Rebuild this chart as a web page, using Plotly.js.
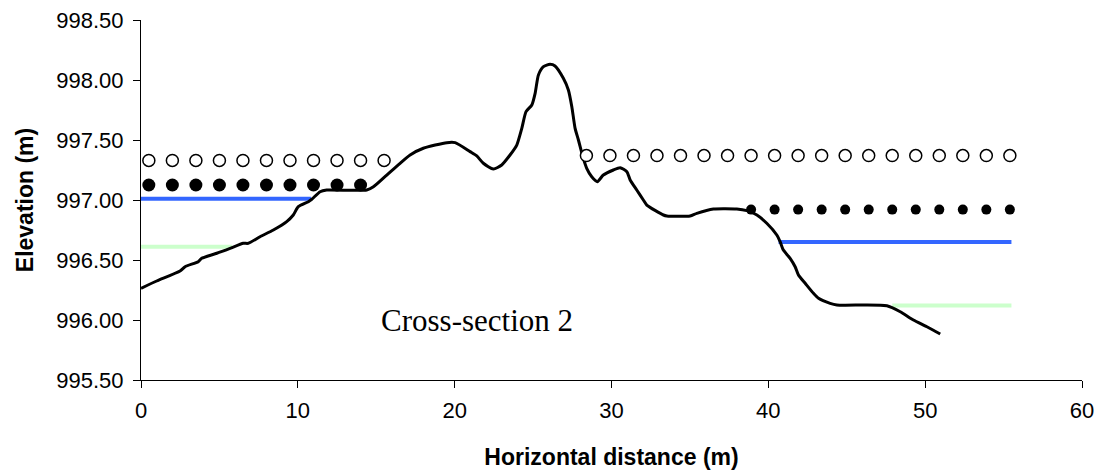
<!DOCTYPE html>
<html>
<head>
<meta charset="utf-8">
<script src="https://cdn.plot.ly/plotly-3.0.1.min.js"></script>
<style>
html,body{margin:0;padding:0;background:#fff;}
#chart{width:1104px;height:474px;}
</style>
</head>
<body>
<div id="chart"></div>
<script>
// Ground profile (horizontal distance m, elevation m)
var groundX = [0, 1.0, 2.49, 2.81, 3.65, 3.87, 4.83, 5.68, 6.52, 6.84, 7.59, 8.44, 9.29, 9.71, 10.03, 10.67,
  10.89, 11.42, 11.84, 14.39, 14.82, 15.67, 16.52, 17.16, 18.0, 19.5, 20.03, 20.98, 21.41, 21.83, 22.47,
  23.0, 23.53, 23.96, 24.28, 24.55, 24.92, 25.13, 25.34, 25.66, 26.08, 26.40, 26.93, 27.25, 27.47, 27.68,
  27.89, 28.17, 28.42, 28.74, 29.10, 29.48, 30.12, 30.55, 30.98, 31.19, 31.61, 32.03, 32.25, 33.31, 33.53,
  35.01, 35.44, 36.50, 37.99, 38.63, 39.27, 39.90, 40.54, 40.75, 40.96, 41.39, 41.71, 41.92, 42.35, 42.88,
  43.20, 43.94, 44.37, 47.56, 48.41, 49.25, 50.11, 50.96];
var groundY = [996.264, 996.325, 996.408, 996.444, 996.486, 996.514, 996.556, 996.597, 996.639, 996.639, 996.694,
  996.75, 996.82, 996.875, 996.944, 996.986,
  997.006, 997.069, 997.083, 997.083, 997.11, 997.208, 997.306, 997.375, 997.431, 997.478, 997.478, 997.403,
  997.367, 997.306, 997.258,
  997.292, 997.375, 997.458, 997.597, 997.736, 997.792, 997.889, 998.042, 998.111, 998.131, 998.117, 998.014,
  997.917, 997.778, 997.597,
  997.5, 997.361, 997.264, 997.194, 997.153, 997.208, 997.25, 997.269, 997.236, 997.167, 997.083, 997.0,
  996.958, 996.875, 996.867,
  996.867, 996.889, 996.925, 996.925, 996.911, 996.875, 996.806, 996.708, 996.653, 996.583, 996.514, 996.444,
  996.375, 996.306, 996.222,
  996.181, 996.139, 996.125, 996.119, 996.069, 996.0, 995.944, 995.883];

// Open-circle water level (left bank and right bank)
var openLeftX = [0.5, 2.0, 3.5, 5.0, 6.5, 8.0, 9.5, 11.0, 12.5, 14.0, 15.5];
var openLeftY = [997.33, 997.33, 997.33, 997.33, 997.33, 997.33, 997.33, 997.33, 997.33, 997.33, 997.33];
var openRightX = [28.4, 29.9, 31.4, 32.9, 34.4, 35.9, 37.4, 38.9, 40.4, 41.9, 43.4, 44.9, 46.4, 47.9, 49.4, 50.9, 52.4, 53.9, 55.4];
var openRightY = [997.37, 997.37, 997.37, 997.37, 997.37, 997.37, 997.37, 997.37, 997.37, 997.37, 997.37, 997.37, 997.37, 997.37, 997.37, 997.37, 997.37, 997.37, 997.37];

// Filled-circle water level
var fillLeftX = [0.5, 2.0, 3.5, 5.0, 6.5, 8.0, 9.5, 11.0, 12.5, 14.0];
var fillLeftY = [997.125, 997.125, 997.125, 997.125, 997.125, 997.125, 997.125, 997.125, 997.125, 997.125];
var fillRightX = [38.9, 40.4, 41.9, 43.4, 44.9, 46.4, 47.9, 49.4, 50.9, 52.4, 53.9, 55.4];
var fillRightY = [996.92, 996.92, 996.92, 996.92, 996.92, 996.92, 996.92, 996.92, 996.92, 996.92, 996.92, 996.92];

// Blue water level lines
var blueLeftX = [0, 10.85];
var blueLeftY = [997.01, 997.01];
var blueRightX = [40.65, 55.5];
var blueRightY = [996.65, 996.65];

// Green water level lines
var greenLeftX = [0, 5.8];
var greenLeftY = [996.61, 996.61];
var greenRightX = [47.9, 55.5];
var greenRightY = [996.12, 996.12];

var annotText = "Cross-section 2";
var annotX = 21.4, annotY = 996.0;

var blue = "#3366FF", green = "#CCFFCC";

var traces = [
  {x: greenLeftX, y: greenLeftY, mode: "lines", line: {color: green, width: 4}},
  {x: greenRightX, y: greenRightY, mode: "lines", line: {color: green, width: 4}},
  {x: blueLeftX, y: blueLeftY, mode: "lines", line: {color: blue, width: 4}},
  {x: blueRightX, y: blueRightY, mode: "lines", line: {color: blue, width: 4}},
  {x: groundX, y: groundY, mode: "lines", line: {color: "#000", width: 3, shape: "spline", smoothing: 0.6}},
  {x: openLeftX, y: openLeftY, mode: "markers", marker: {symbol: "circle", size: 12, color: "#fff", line: {color: "#000", width: 1.5}}},
  {x: openRightX, y: openRightY, mode: "markers", marker: {symbol: "circle", size: 12, color: "#fff", line: {color: "#000", width: 1.5}}},
  {x: fillLeftX, y: fillLeftY, mode: "markers", marker: {symbol: "circle", size: 13, color: "#000"}},
  {x: fillRightX, y: fillRightY, mode: "markers", marker: {symbol: "circle", size: 10, color: "#000"}}
];

var tickFont = {family: "Liberation Sans, Arial, sans-serif", size: 22, color: "#000"};
var titleFont = {family: "Liberation Sans, Arial, sans-serif", size: 23, color: "#000", weight: "bold"};

var layout = {
  width: 1104, height: 474,
  margin: {l: 141, r: 22, t: 20, b: 94, pad: 0},
  paper_bgcolor: "#fff", plot_bgcolor: "#fff",
  showlegend: false,
  xaxis: {
    range: [0, 60], dtick: 10, tick0: 0,
    showline: true, linecolor: "#000", linewidth: 1,
    showgrid: false, zeroline: false,
    ticks: "outside", ticklen: 7, tickcolor: "#000", tickwidth: 1,
    tickfont: tickFont, ticklabelstandoff: 4,
    title: {text: "<b>Horizontal distance (m)</b>", font: titleFont, standoff: 26}
  },
  yaxis: {
    range: [995.5, 998.5], dtick: 0.5, tick0: 995.5, tickformat: ".2f",
    showline: true, linecolor: "#000", linewidth: 1,
    showgrid: false, zeroline: false,
    ticks: "outside", ticklen: 7, tickcolor: "#000", tickwidth: 1,
    tickfont: tickFont, ticklabelstandoff: 5,
    title: {text: "<b>Elevation (m)</b>", font: titleFont, standoff: 16}
  },
  annotations: [{
    x: annotX, y: annotY, xref: "x", yref: "y", text: annotText, showarrow: false,
    font: {family: "Liberation Serif, Times New Roman, serif", size: 31, color: "#000"},
    xanchor: "center", yanchor: "middle"
  }]
};

Plotly.newPlot("chart", traces, layout, {displayModeBar: false, staticPlot: true});
</script>
</body>
</html>
